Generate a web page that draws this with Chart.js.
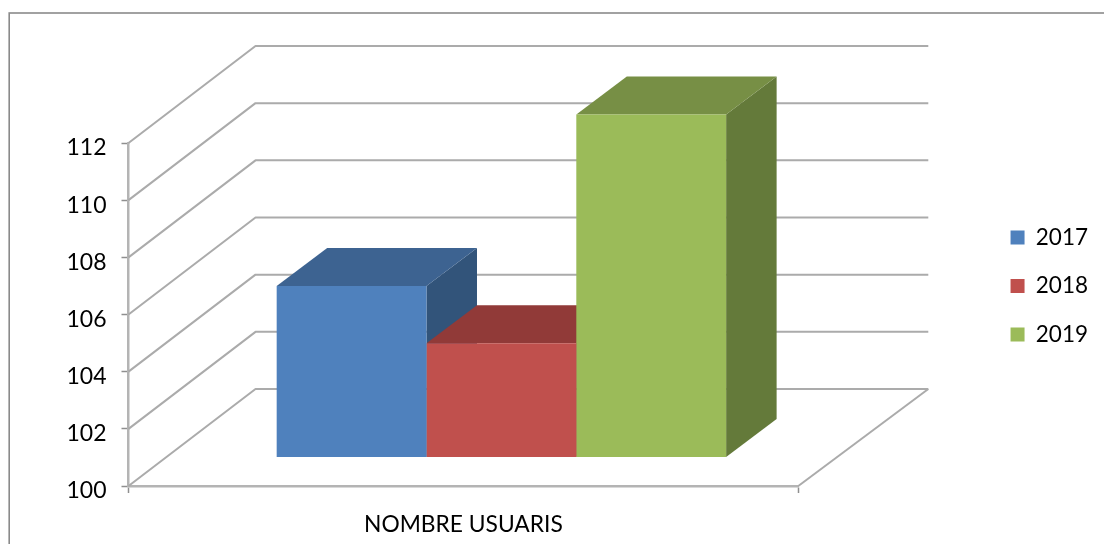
<!DOCTYPE html>
<html><head><meta charset="utf-8">
<style>html,body{margin:0;padding:0;background:#fff;overflow:hidden}canvas{display:block;filter:blur(0.45px)}</style>
<script src="https://cdn.jsdelivr.net/npm/chart.js@4"></script>
</head><body><canvas id="c" width="1104" height="544"></canvas>
<script>
const categories = ['NOMBRE USUARIS'];
const seriesNames = ['2017','2018','2019'];
const values2017 = [106];
const values2018 = [104];
const values2019 = [112];
const yTicks = {min:100,max:112,step:2};
const frontColors = ['#4F81BD','#C0504D','#9BBB59'];
const topColors = ['#3D6391','#913A38','#778F45'];
const sideColors = ['#32547A','#7A302E','#647A3A'];
const wallDepth = {left:127,right:130,y:-97};
const barDepth = {x:50.5,y:-38};
const barShift = {x:38,y:-28.5};
const gridColor = '#ababab';
const font = 'Lato, Carlito, sans-serif';

const threeD = {
  id:'threeD',
  beforeDraw(chart){
    const c=chart.ctx;
    c.save();c.fillStyle='#fff';c.fillRect(0,0,chart.width,chart.height);
    c.strokeStyle='#8a8a8a';c.lineWidth=1.6;c.strokeRect(9.2,13,1300,800);c.restore();
  },
  beforeDatasetsDraw(chart){
    const c=chart.ctx,y=chart.scales.y,a=chart.chartArea;
    c.save();c.strokeStyle=gridColor;c.lineWidth=2;c.lineJoin='round';
    y.ticks.forEach(t=>{
      const py=y.getPixelForValue(t.value);
      c.beginPath();c.moveTo(a.left,py);
      c.lineTo(a.left+wallDepth.left,py+wallDepth.y);
      c.lineTo(a.right+wallDepth.right,py+wallDepth.y);c.stroke();
    });
    const py=y.getPixelForValue(yTicks.min);
    c.beginPath();c.moveTo(a.right,py);c.lineTo(a.right+wallDepth.right,py+wallDepth.y);c.stroke();
    c.restore();
    c.save();c.translate(barShift.x,barShift.y);
    // side and top faces, back to front; the library then paints the front faces over them
    chart.getSortedVisibleDatasetMetas().forEach(meta=>{
      const i=meta.index;
      meta.data.forEach(b=>{
        const l=b.x-b.width/2,r=b.x+b.width/2,t=b.y,bt=b.base;
        c.fillStyle=sideColors[i];
        c.beginPath();c.moveTo(r,t);c.lineTo(r+barDepth.x,t+barDepth.y);c.lineTo(r+barDepth.x,bt+barDepth.y);c.lineTo(r,bt);c.closePath();c.fill();
        c.fillStyle=topColors[i];
        c.beginPath();c.moveTo(l,t);c.lineTo(l+barDepth.x,t+barDepth.y);c.lineTo(r+barDepth.x,t+barDepth.y);c.lineTo(r,t);c.closePath();c.fill();
      });
    });
  },
  afterDatasetsDraw(chart){chart.ctx.restore();}
};

const mk=(i,data)=>({label:seriesNames[i],data,backgroundColor:frontColors[i],borderWidth:0,clip:false,
  base:yTicks.min,categoryPercentage:0.671,barPercentage:1});

new Chart(document.getElementById('c'),{
  type:'bar',
  data:{labels:categories,datasets:[mk(0,values2017),mk(1,values2018),mk(2,values2019)]},
  plugins:[threeD],
  options:{
    responsive:false,animation:false,
    layout:{padding:{left:0,right:6,top:28,bottom:0},autoPadding:false},
    plugins:{
      tooltip:{enabled:false},
      legend:{position:'right',align:'center',
        labels:{boxWidth:14,boxHeight:14,padding:26,color:'#000',font:{family:font,size:22.5},
          sort:(a,b)=>a.datasetIndex-b.datasetIndex}}
    },
    scales:{
      x:{afterFit:s=>{s.height=58;},
        grid:{drawOnChartArea:false,tickLength:7,tickColor:'#8f8f8f',tickWidth:1.5},
        border:{color:'#b4b4b4',width:2.5},
        ticks:{color:'#000',font:{family:font,size:22.8},padding:18,maxRotation:0}},
      xTop:{type:'category',position:'top',display:true,afterFit:s=>{s.height=115;},
        grid:{display:false},border:{display:false},ticks:{display:false}},
      y:{min:yTicks.min,max:yTicks.max,afterFit:s=>{s.width=128.5;},
        grid:{drawOnChartArea:false,tickLength:7,tickColor:'#8f8f8f',tickWidth:1.5},
        border:{color:'#b4b4b4',width:2.5},
        ticks:{stepSize:yTicks.step,color:'#000',font:{family:font,size:23,lineHeight:0.43},padding:15,
          callback:v=>['',String(v)]}},
      yR:{position:'right',display:true,afterFit:s=>{s.width=186.25;},
        grid:{display:false},border:{display:false},ticks:{display:false}}
    }
  }
});
</script></body></html>
